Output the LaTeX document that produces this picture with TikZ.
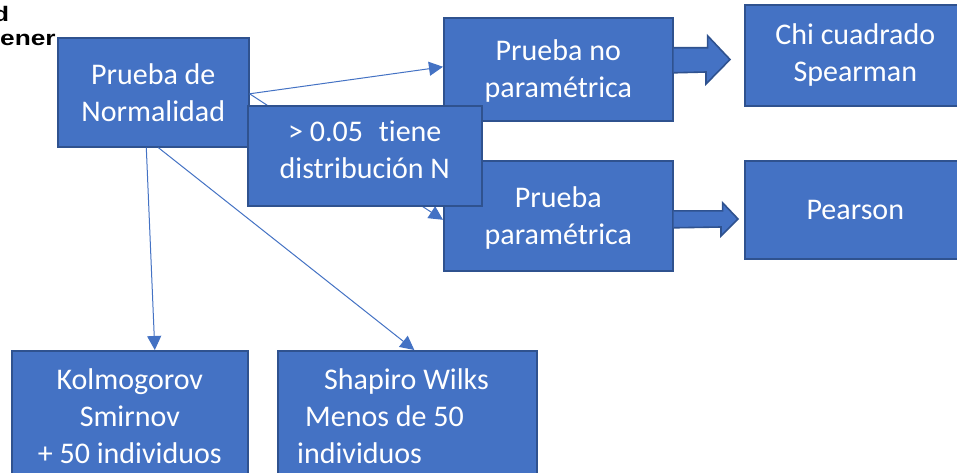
\documentclass[tikz,border=0pt]{standalone}
\usepackage{fontspec}
\setmainfont{Carlito}[Ligatures=NoCommon]
\newfontfamily\logofont{Liberation Sans}
\definecolor{boxfill}{HTML}{4472C4}
\definecolor{boxline}{HTML}{2F528F}
\usetikzlibrary{arrows.meta}
\tikzset{
  bluebox/.style={draw=boxline,fill=boxfill,line width=1.6pt,text=white,inner sep=0pt,anchor=north west,
    align=center,font=\fontsize{30}{37}\selectfont},
  link/.style={draw=boxfill,line width=1pt,-{Triangle[length=14pt,width=14pt]}},
  blockarrow/.style={draw=boxline,fill=boxfill,line width=1.6pt,line join=miter},
  logotext/.style={anchor=base west,inner sep=0pt,xscale=1.25,font=\logofont\bfseries\fontsize{21}{21}\selectfont,text=black}
}
\begin{document}
\begin{tikzpicture}[x=1pt,y=-1pt]
\useasboundingbox (0,0) rectangle (957,473);
\clip (0,0) rectangle (957,473);
\fill[white] (0,0) rectangle (957,473);
\node[logotext] (logoa) at (-7,22) {d};
\node[logotext] (logob) at (0,46) {ener};
\node[bluebox,minimum width=191pt,minimum height=109pt] (a) at (57,37) {Prueba de\\Normalidad};
\node[bluebox,minimum width=229pt,minimum height=103pt] (c) at (443,17) {\rule{0pt}{25pt}Prueba no\\paramétrica};
\node[bluebox,minimum width=229pt,minimum height=110pt] (d) at (443,160) {\rule{0pt}{25pt}Prueba\\paramétrica};
\node[bluebox,minimum width=221pt,minimum height=101pt] (e) at (744,4) {Chi cuadrado\\Spearman};
\node[bluebox,minimum width=221pt,minimum height=98pt] (f) at (744,160) {Pearson};
\node[bluebox,minimum width=236pt,minimum height=130pt] (g) at (11,350) {Kolmogorov\\Smirnov\\+ 50 individuos};
\node[bluebox,minimum width=259pt,minimum height=130pt] (h) at (277,350) {};
\node[anchor=west,inner sep=0pt,align=left,text=white,font=\fontsize{30}{37}\selectfont] (ht) at (297,416)
  {\hspace*{27pt}Shapiro Wilks\\\hspace*{8pt}Menos de 50\\individuos};
% connectors
\draw[link] ([yshift=-1.5pt]a.east) -- ([yshift=2.5pt]c.west);
\draw[link] ([yshift=-1.5pt]a.east) -- ([yshift=-4pt]d.west);
\draw[link] ([xshift=-7pt]a.south) -- ([xshift=25pt]g.north);
\draw[link] ([xshift=5pt]a.south) -- ([xshift=7pt]h.north);
\node[bluebox,minimum width=234pt,minimum height=100pt] (b) at (247,105) {> 0.05\hspace{0.3em} tiene\\distribución N\rule[-12pt]{0pt}{0pt}};
% block arrows
\draw[blockarrow] ([yshift=21.5pt]c.east) -- ++(34,0) -- ++(0,-12) -- (730,59.5) -- (706,84) -- ++(0,-12) -- ([yshift=-3.5pt]c.east);
\draw[blockarrow] ([yshift=5pt]d.east) -- ++(49,0) -- ++(0,-8) -- (738,219) -- (721,236) -- ++(0,-9) -- ([yshift=-12pt]d.east);
\end{tikzpicture}
\end{document}
